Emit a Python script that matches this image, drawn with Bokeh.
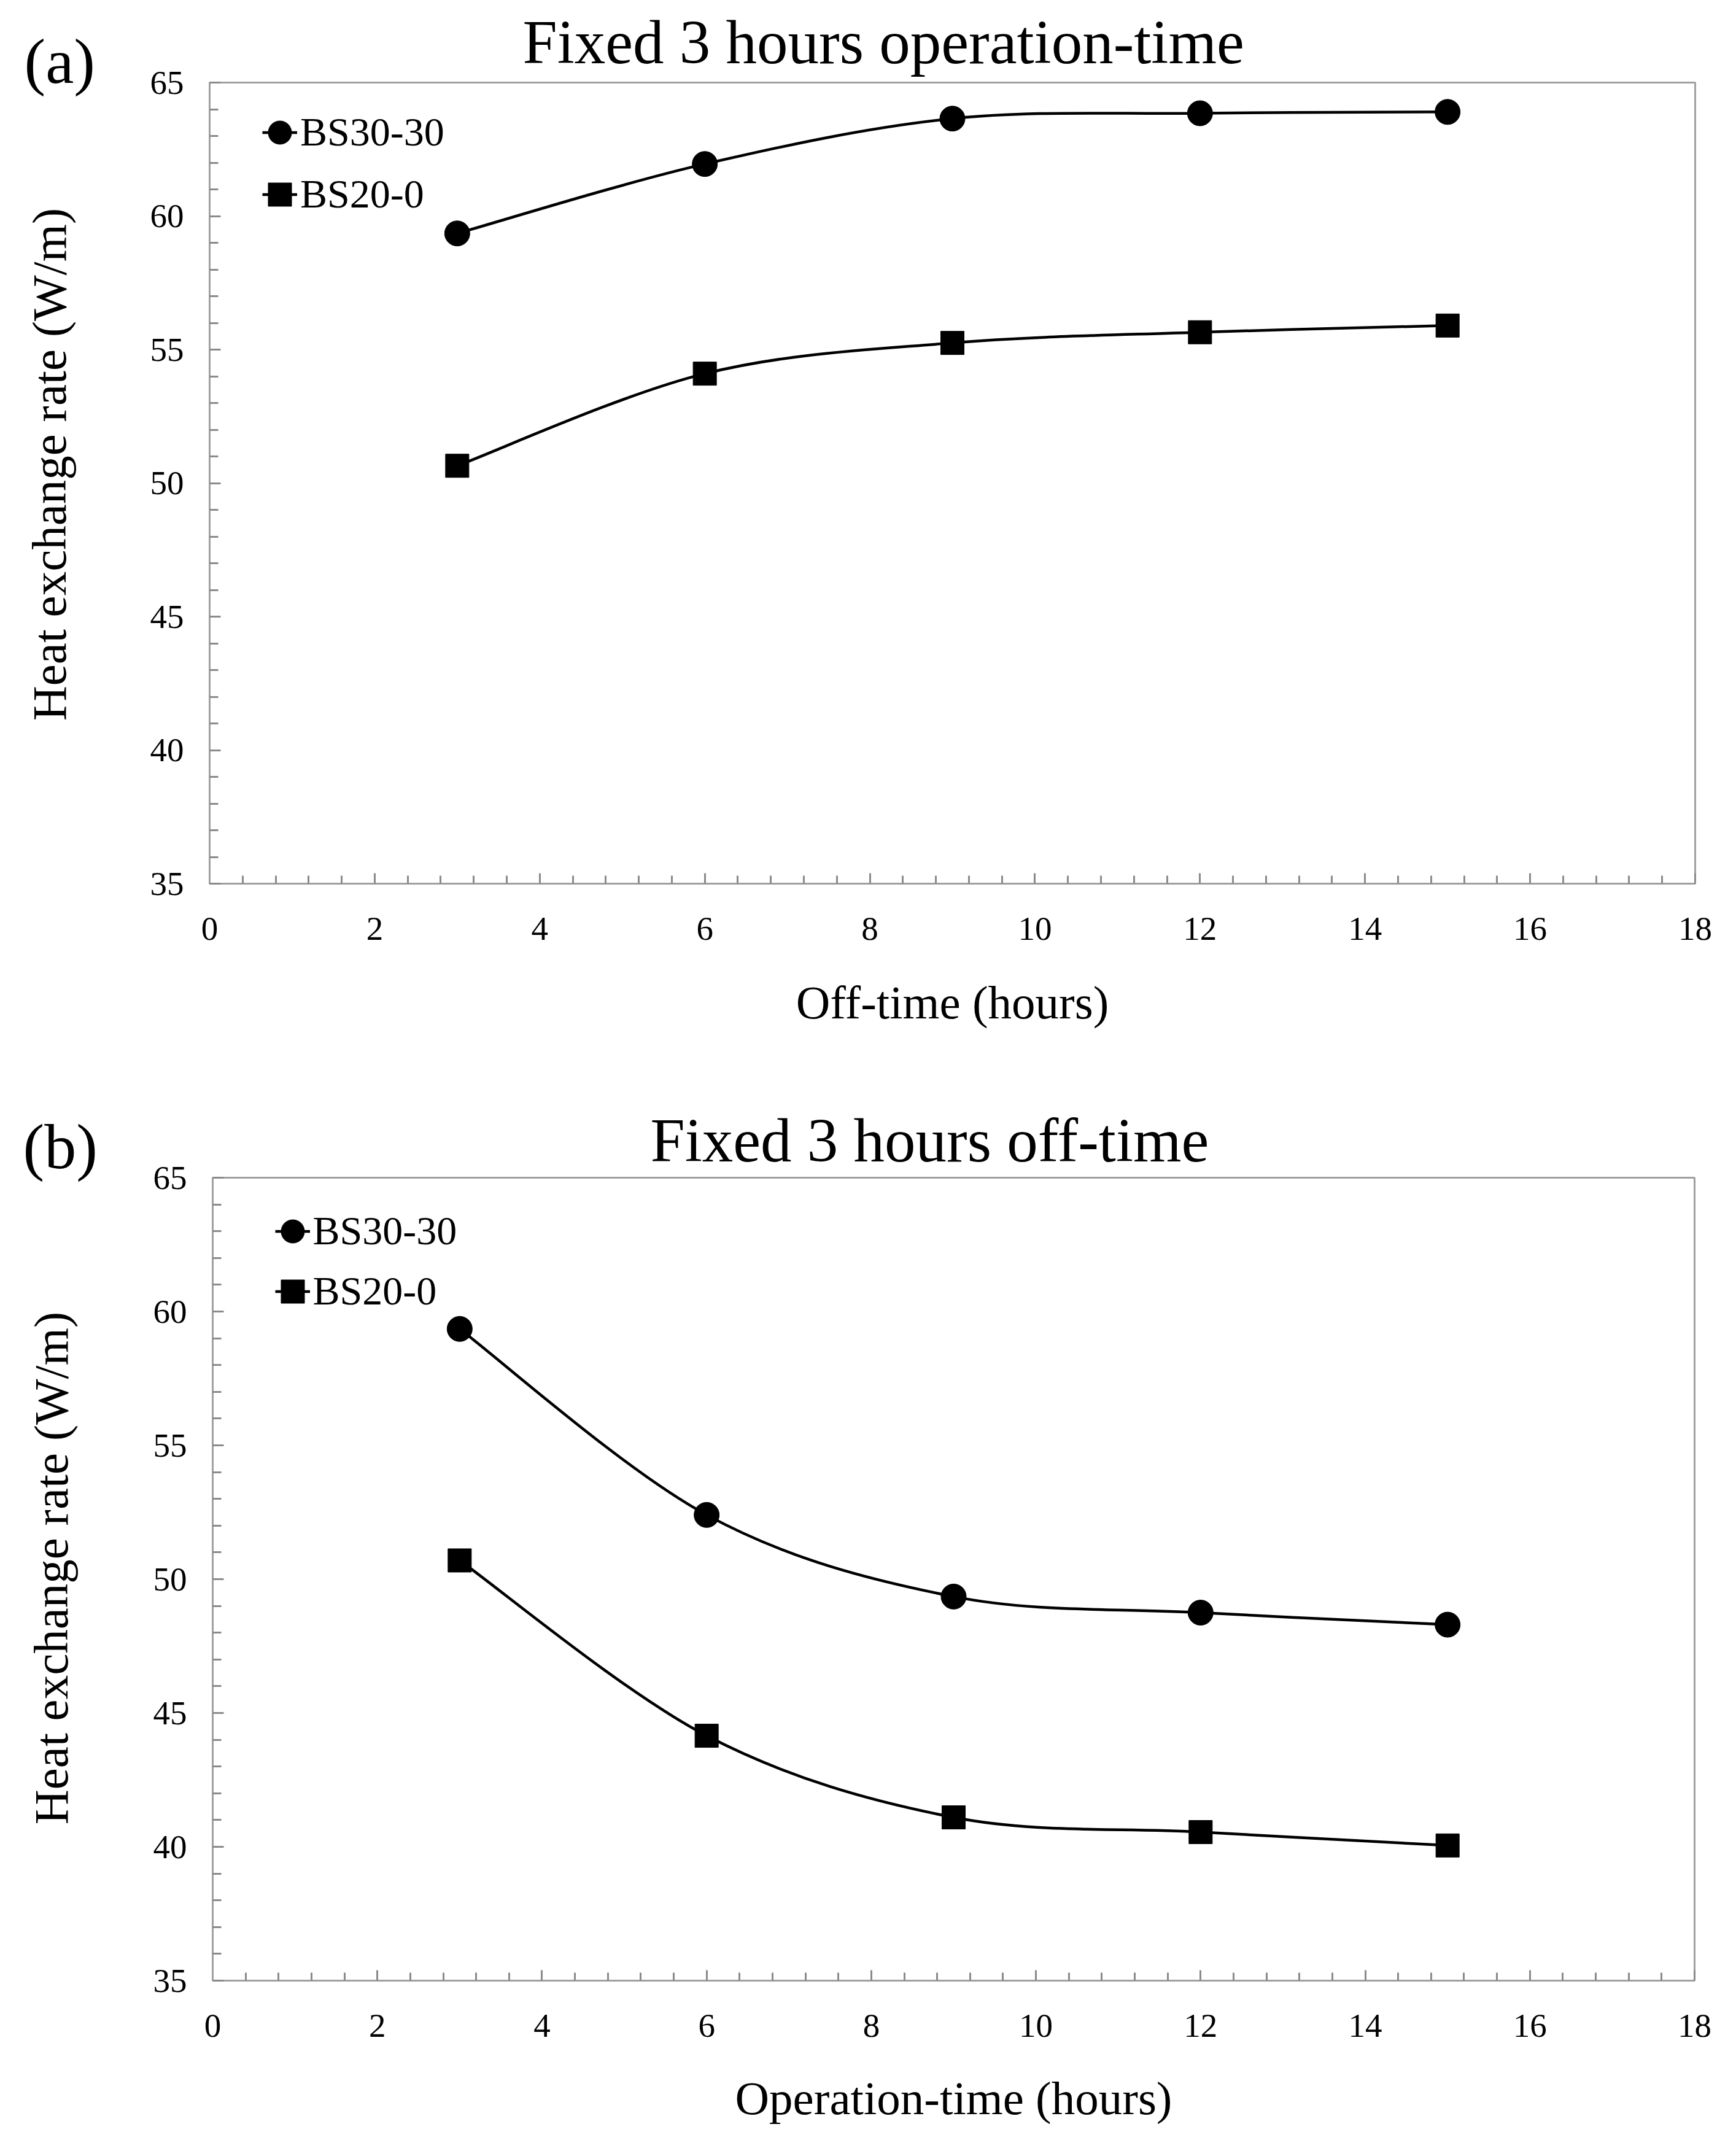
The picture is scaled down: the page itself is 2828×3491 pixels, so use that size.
import math
from bokeh.plotting import figure
from bokeh.models import (Range1d, FixedTicker, Label, Legend, LegendItem,
                          ColumnDataSource, Title)
from bokeh.layouts import column, row
from bokeh.embed import file_html
from bokeh.resources import INLINE

# ---------------- data ----------------
off_time = [3, 6, 9, 12, 15]
a_bs3030 = [59.35, 61.95, 63.65, 63.85, 63.9]
a_bs200 = [50.65, 54.1, 55.25, 55.65, 55.9]

op_time = [3, 6, 9, 12, 15]
b_bs3030 = [59.35, 52.4, 49.35, 48.75, 48.3]
b_bs200 = [50.7, 44.15, 41.1, 40.55, 40.05]

series_names = ["BS30-30", "BS20-0"]
x_ticks = [0, 2, 4, 6, 8, 10, 12, 14, 16, 18]
y_ticks = [35, 40, 45, 50, 55, 60, 65]
x_minor = [round(0.4 * i, 2) for i in range(46) if i % 5 != 0]
y_minor = [v for v in range(35, 66) if v % 5 != 0]

FONT = "Liberation Serif"
AX = "#a0a0a0"
TK = "#8a8a8a"
PAGE_W = 2812
STRIP_W = 230


def smooth_source(xs, ys):
    """Catmull-Rom style (Excel 'smoothed line') bezier segments through the points."""
    n = len(xs)
    d = dict(x0=[], y0=[], x1=[], y1=[], cx0=[], cy0=[], cx1=[], cy1=[])
    for i in range(n - 1):
        ip = i - 1 if i > 0 else i
        inx = i + 2 if i + 2 < n else i + 1
        d["x0"].append(xs[i]); d["y0"].append(ys[i])
        d["x1"].append(xs[i + 1]); d["y1"].append(ys[i + 1])
        d["cx0"].append(xs[i] + (xs[i + 1] - xs[ip]) / 6.0)
        d["cy0"].append(ys[i] + (ys[i + 1] - ys[ip]) / 6.0)
        d["cx1"].append(xs[i + 1] - (xs[inx] - xs[i]) / 6.0)
        d["cy1"].append(ys[i + 1] - (ys[inx] - ys[i]) / 6.0)
    return ColumnDataSource(d)


def make_strip(height, tag, tag_offset, tag_standoff, ylab_pos):
    s = figure(width=STRIP_W, height=height, x_range=Range1d(0, 1), y_range=Range1d(0, 1),
               x_axis_location=None, y_axis_location=None, output_backend="svg",
               toolbar_location=None, min_border_left=0, min_border_right=0,
               min_border_top=0, min_border_bottom=0)
    s.outline_line_color = None
    s.xgrid.visible = False
    s.ygrid.visible = False
    s.add_layout(Title(text=tag, align="left", offset=tag_offset, standoff=tag_standoff,
                       text_font=FONT, text_font_size="104px", text_font_style="normal",
                       text_color="black"), "above")
    s.add_layout(Label(x=ylab_pos[0], y=ylab_pos[1], x_units="screen", y_units="screen",
                       text="Heat exchange rate (W/m)", text_font=FONT, text_font_size="79px",
                       text_color="black", text_align="center", text_baseline="middle",
                       angle=math.pi / 2))
    return s


def make_panel(xs, y1, y2, height, borders, title, title_offset, title_standoff,
               xlabel, xlabel_standoff, legend_pos):
    bl, br, bt, bb = borders
    p = figure(width=PAGE_W - STRIP_W, height=height, x_range=Range1d(0, 18),
               y_range=Range1d(35, 65), output_backend="svg", toolbar_location=None,
               min_border_left=bl, min_border_right=br, min_border_top=bt, min_border_bottom=bb)
    p.background_fill_color = "white"
    p.border_fill_color = "white"
    p.xgrid.visible = False
    p.ygrid.visible = False
    p.outline_line_color = AX
    p.outline_line_width = 3

    p.add_layout(Title(text=title, align="left", offset=title_offset, standoff=title_standoff,
                       text_font=FONT, text_font_size="101px", text_font_style="normal",
                       text_color="black"), "above")

    p.xaxis.ticker = FixedTicker(ticks=x_ticks, minor_ticks=x_minor)
    p.yaxis.ticker = FixedTicker(ticks=y_ticks, minor_ticks=y_minor)
    for ax in (p.xaxis[0], p.yaxis[0]):
        ax.axis_line_color = AX
        ax.axis_line_width = 3
        ax.major_tick_line_color = TK
        ax.major_tick_line_width = 3
        ax.minor_tick_line_color = TK
        ax.minor_tick_line_width = 3
        ax.major_tick_out = 0
        ax.minor_tick_out = 0
        ax.major_label_text_font = FONT
        ax.major_label_text_font_size = "55px"
        ax.major_label_text_color = "black"
        ax.axis_label_text_font = FONT
        ax.axis_label_text_font_size = "77px"
        ax.axis_label_text_font_style = "normal"
        ax.axis_label_text_color = "black"
    p.xaxis[0].major_tick_in = 17
    p.xaxis[0].minor_tick_in = 13
    p.yaxis[0].major_tick_in = 18
    p.yaxis[0].minor_tick_in = 14
    p.xaxis[0].major_label_standoff = 55
    p.yaxis[0].major_label_standoff = 42
    p.xaxis[0].axis_label = xlabel
    p.xaxis[0].axis_label_standoff = xlabel_standoff

    l1 = p.bezier(x0="x0", y0="y0", x1="x1", y1="y1", cx0="cx0", cy0="cy0", cx1="cx1", cy1="cy1",
                  source=smooth_source(xs, y1), line_color="black", line_width=4.5)
    l2 = p.bezier(x0="x0", y0="y0", x1="x1", y1="y1", cx0="cx0", cy0="cy0", cx1="cx1", cy1="cy1",
                  source=smooth_source(xs, y2), line_color="black", line_width=4.5)
    m1 = p.scatter(xs, y1, marker="circle", size=41, fill_color="black", line_color="black")
    m2 = p.scatter(xs, y2, marker="square", size=38, fill_color="black", line_color="black")

    gx_line, gx_mark, gy, gsp = legend_pos
    common = dict(padding=0, margin=0, border_line_color=None, background_fill_alpha=0,
                  glyph_height=95, spacing=gsp, label_text_font=FONT,
                  label_text_font_size="66px", label_text_color="black")
    leg_lines = Legend(items=[LegendItem(label=series_names[0], renderers=[l1]),
                              LegendItem(label=series_names[1], renderers=[l2])],
                       location=(gx_line, gy), glyph_width=57, label_standoff=5, **common)
    leg_marks = Legend(items=[LegendItem(label="", renderers=[m1]),
                              LegendItem(label="", renderers=[m2])],
                       location=(gx_mark, gy), glyph_width=95, label_standoff=0, **common)
    p.add_layout(leg_lines)
    p.add_layout(leg_marks)
    return p


sa = make_strip(1737, "(a)", 39, -45, (80, 683))
pa = make_panel(off_time, a_bs3030, a_bs200, 1737, (111, 51, 131, 298),
                "Fixed 3 hours operation-time", 510, 20,
                "Off-time (hours)", 56, (86, 67, 1075.5, 6))
sb = make_strip(1738, "(b)", 37, -13, (83, 672))
pb = make_panel(op_time, b_bs3030, b_bs200, 1738, (116, 52, 181, 249),
                "Fixed 3 hours off-time", 713, 10,
                "Operation-time (hours)", 54, (101.5, 82.5, 1075.5, 3))

layout = column(row(sa, pa, spacing=0), row(sb, pb, spacing=0), spacing=0)
open("out.html", "w").write(file_html(layout, INLINE))
